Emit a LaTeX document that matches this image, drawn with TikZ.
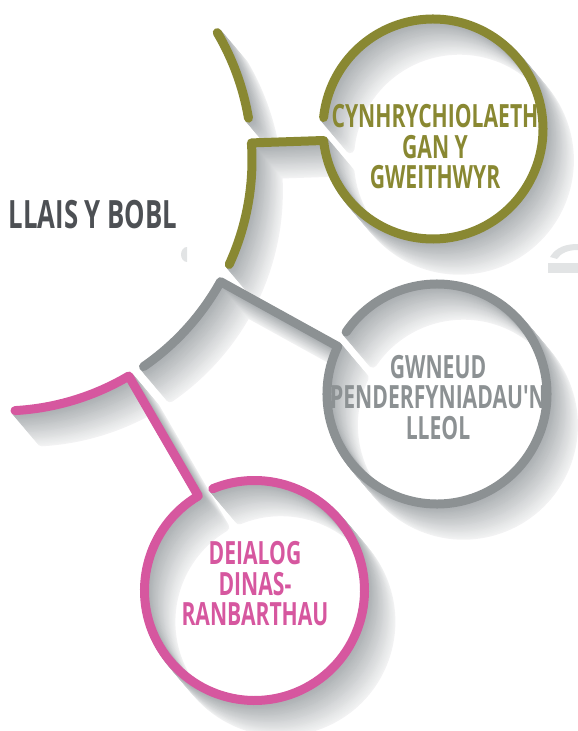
\documentclass[tikz,border=0pt]{standalone}
\usepackage{fontspec}
\newfontfamily\ringfont[FakeStretch=0.66]{Open Sans}
\usetikzlibrary{calc}
\usepackage{xcolor}

\definecolor{ringolive}{RGB}{137,136,50}
\definecolor{ringgray}{RGB}{140,145,147}
\definecolor{ringpink}{RGB}{214,87,159}
\definecolor{textdark}{RGB}{77,80,84}
\definecolor{shadebase}{RGB}{120,127,131}
\definecolor{fragment}{RGB}{226,228,229}

% paths of the three ribbons
\newcommand\olivetail{($(c_hub)+(9.6:251)$) arc[start angle=9.6, end angle=30.5, radius=251]}
\newcommand\olivering{($(c_hub)+(-24.6:251)$) arc[start angle=-24.6, end angle=3.9, radius=251] -- (j_olive) arc[start angle=186, end angle=534, radius=110]}
\newcommand\grayring{($(c_hub)+(-55.4:251)$) arc[start angle=-55.4, end angle=-29, radius=251] -- (j_gray) arc[start angle=154.4, end angle=505.7, radius=110]}
\newcommand\pinkring{($(c_hub)+(-86.8:251)$) arc[start angle=-86.8, end angle=-59.4, radius=251] -- (j_pink) arc[start angle=120.7, end angle=472.3, radius=110]}

\begin{document}
\begin{tikzpicture}[x=1pt, y=1pt,
    ringline/.style = {line width=9pt, line cap=round, line join=round},
    shadeline/.style = {line width=9pt, line cap=round, line join=round},
    ringtext/.style = {align=center, inner sep=0pt, font=\ringfont\bfseries\fontsize{32}{30.5}\selectfont},
    hubtext/.style = {inner sep=0pt, text=textdark, font=\ringfont\bfseries\fontsize{39}{42}\selectfont}
]
\useasboundingbox (0,0) rectangle (578,731);

% Centres
\coordinate (c_hub) at (1,571);
\coordinate (c_olive) at (433,602);
\coordinate (c_gray) at (437,337);
\coordinate (c_pink) at (254.5,140.5);

% Corners on the hub and joins on the rings
\coordinate (k_olive) at ($(c_hub)+(3.9:251)$);
\coordinate (k_gray) at ($(c_hub)+(-29:251)$);
\coordinate (k_pink) at ($(c_hub)+(-59.4:251)$);
\coordinate (j_olive) at ($(c_olive)+(186:110)$);
\coordinate (j_gray) at ($(c_gray)+(154.4:110)$);
\coordinate (j_pink) at ($(c_pink)+(120.7:110)$);

% Shadows
\foreach \k in {24,23,...,1}{
  \pgfmathtruncatemacro\tone{10+2.2*(24-\k)}
  \begin{scope}[transform canvas={shift={(1.1*\k,-1.3*\k)}}]
    \draw [shadeline, draw=shadebase!\tone!white] \olivetail \olivering \grayring \pinkring;
  \end{scope}
}

% Stray fragments
\fill [fragment] (187,484) arc[start angle=90, end angle=270, x radius=6, y radius=7.5] -- cycle;
\fill [fragment] (550,474) .. controls (556,484) and (566,487) .. (578,487) -- (578,481) .. controls (568,481) and (561,478) .. (557,472) -- cycle;
\fill [fragment] (548,458) rectangle (578,468);

% Ribbons
\draw [ringline, draw=ringolive] \olivetail \olivering;
\draw [ringline, draw=ringgray] \grayring;
\draw [ringline, draw=ringpink] \pinkring;

% Labels
\node (t_hub) [hubtext] at (93,516.5) {LLAIS Y BOBL};
\node (t_olive) [ringtext, text=ringolive] at (435,584) {CYNHRYCHIOLAETH\\GAN Y\\GWEITHWYR};
\node (t_gray) [ringtext, text=ringgray] at (438,333.5) {GWNEUD\\PENDERFYNIADAU'N\\LLEOL};
\node (t_pink) [ringtext, text=ringpink] at (255,147) {DEIALOG\\DINAS-\\RANBARTHAU};

\end{tikzpicture}
\end{document}
